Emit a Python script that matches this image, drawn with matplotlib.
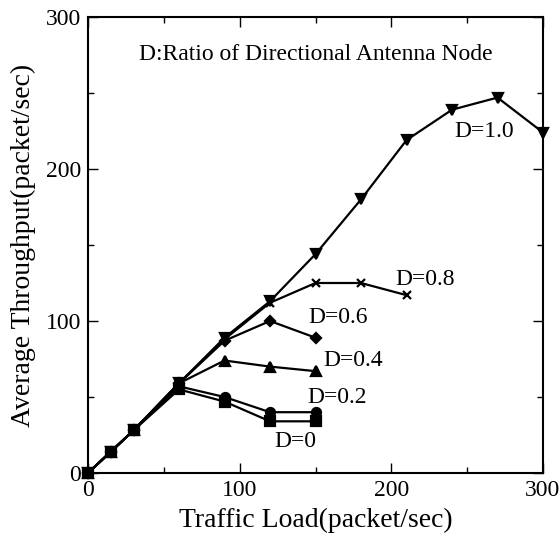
import numpy as np
from matplotlib import pyplot as plt
from matplotlib.ticker import MultipleLocator

plt.rcParams['font.family'] = ['Liberation Serif', 'DejaVu Serif']

# traffic load (packet/sec)
load = [0, 15, 30, 60, 90, 120, 150, 180, 210, 240, 270, 300]

# average throughput for each directional-antenna ratio D
thr_d00 = [0, 14, 28, 55, 47, 34, 34]
thr_d02 = [0, 14, 28, 57, 50, 40, 40]
thr_d04 = [0, 14, 28, 59, 74, 70, 67]
thr_d06 = [0, 14, 28, 59, 87, 100, 89]
thr_d08 = [0, 14, 28, 59, 88, 112, 125, 125, 117]
thr_d10 = [0, 14, 28, 59, 89, 113, 144, 180, 219, 239, 247, 224]

series = [
    ('D=0', thr_d00, 's', 7.5),
    ('D=0.2', thr_d02, 'o', 6.5),
    ('D=0.4', thr_d04, '^', 7),
    ('D=0.6', thr_d06, 'D', 5),
    ('D=0.8', thr_d08, 'x', 6),
    ('D=1.0', thr_d10, 'v', 7),
]

# where each curve label sits (data coords, left/baseline)
label_pos = {
    'D=0': (123, 17),
    'D=0.2': (144.5, 46),
    'D=0.4': (155, 70.5),
    'D=0.6': (145.5, 99),
    'D=0.8': (202.5, 124),
    'D=1.0': (241.5, 221),
}


def main():
    fig = plt.figure(figsize=(5.6, 5.4), dpi=100)
    ax = fig.add_axes([88 / 560, 67 / 540, 455 / 560, 456 / 540])

    for name, vals, mk, ms in series:
        ax.plot(load[:len(vals)], vals, color='black', lw=1.6,
                marker=mk, ms=ms, mew=1.6, clip_on=False, zorder=3)
        lx, ly = label_pos[name]
        ax.text(lx, ly, name, fontsize=17, ha='left', va='baseline')

    ax.text(0.5, 0.905, 'D:Ratio of Directional Antenna Node',
            transform=ax.transAxes, ha='center', fontsize=17)

    ax.set_xlim(0, 300)
    ax.set_ylim(0, 300)
    ax.xaxis.set_major_locator(MultipleLocator(100))
    ax.xaxis.set_minor_locator(MultipleLocator(50))
    ax.yaxis.set_major_locator(MultipleLocator(100))
    ax.yaxis.set_minor_locator(MultipleLocator(50))
    ax.tick_params(which='both', direction='in', top=True, right=True,
                   labelsize=17, width=1)
    ax.tick_params(which='major', length=7)
    ax.tick_params(which='minor', length=4)
    ax.tick_params(axis='x', pad=5)
    ax.tick_params(axis='y', pad=5)
    for sp in ax.spines.values():
        sp.set_linewidth(1.5)

    ax.set_xlabel('Traffic Load(packet/sec)', fontsize=20, labelpad=5)
    ax.set_ylabel('Average Throughput(packet/sec)', fontsize=20, labelpad=7)

    fig.savefig('out.png', dpi=100)


if __name__ == '__main__':
    main()
